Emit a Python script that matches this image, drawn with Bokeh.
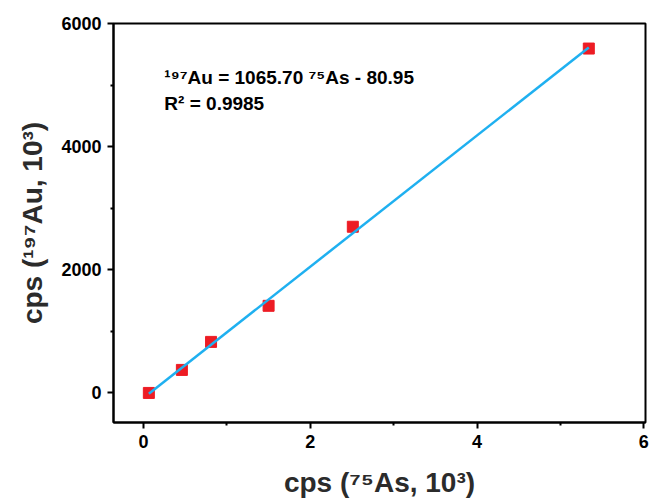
from bokeh.plotting import figure
from bokeh.models import FixedTicker, Label, Range1d, ColumnDataSource
from bokeh.embed import file_html
from bokeh.resources import INLINE

# Data
as75_cps = [0.064, 0.46, 0.81, 1.50, 2.51, 5.34]       # cps (75As, 10^3)
au197_cps = [0, 374, 829, 1415, 2699, 5593]             # cps (197Au, 10^3)
fit_slope = 1065.70
fit_intercept = -80.95
r_squared = 0.9985
x_ticks = [0, 2, 4, 6]
x_minor = [1, 3, 5]
y_ticks = [0, 2000, 4000, 6000]
y_minor = [1000, 3000, 5000]

FONT = "Liberation Sans"

p = figure(width=650, height=504, output_backend="svg", toolbar_location=None,
           x_range=Range1d(-0.36, 6.02), y_range=Range1d(-480, 6000),
           min_border_left=113, min_border_right=5, min_border_top=23,
           min_border_bottom=82)
p.grid.visible = False
p.outline_line_color = "black"
p.outline_line_width = 2
p.background_fill_color = "white"
p.border_fill_color = "white"

p.xaxis.ticker = FixedTicker(ticks=x_ticks, minor_ticks=x_minor)
p.yaxis.ticker = FixedTicker(ticks=y_ticks, minor_ticks=y_minor)

for ax in (p.xaxis, p.yaxis):
    ax.axis_line_width = 2
    ax.axis_line_color = "black"
    ax.major_tick_line_width = 2
    ax.minor_tick_line_width = 2
    ax.major_tick_in = 0
    ax.major_tick_out = 6
    ax.minor_tick_in = 0
    ax.minor_tick_out = 3
    ax.major_label_text_font = FONT
    ax.major_label_text_font_style = "bold"
    ax.major_label_text_font_size = "18px"
    ax.major_label_text_color = "black"
    ax.major_label_standoff = 6
    ax.axis_label_text_font = FONT
    ax.axis_label_text_font_style = "bold"
    ax.axis_label_text_font_size = "28px"
    ax.axis_label_text_color = "#2b2b2b"

p.xaxis.axis_label = "cps (⁷⁵As, 10³)"
p.yaxis.axis_label = "cps (¹⁹⁷Au, 10³)"
p.xaxis.axis_label_standoff = 16
p.yaxis.axis_label_standoff = 10

src = ColumnDataSource(dict(x=as75_cps, y=au197_cps))
p.scatter("x", "y", source=src, marker="square", size=11,
          fill_color="#ED1C24", line_color="#ED1C24")

fx = [min(as75_cps), max(as75_cps)]
fy = [fit_slope * v + fit_intercept for v in fx]
p.line(fx, fy, line_color="#1FB0F0", line_width=2.5)

p.add_layout(Label(x=0.25, y=5127, text="¹⁹⁷Au = %.2f ⁷⁵As - %.2f" % (fit_slope, -fit_intercept),
                   text_font=FONT, text_font_style="bold", text_font_size="19px",
                   text_baseline="middle", text_color="black"))
p.add_layout(Label(x=0.25, y=4699, text="R² = %.4f" % r_squared,
                   text_font=FONT, text_font_style="bold", text_font_size="19px",
                   text_baseline="middle", text_color="black"))

open("out.html", "w").write(file_html(p, INLINE))
